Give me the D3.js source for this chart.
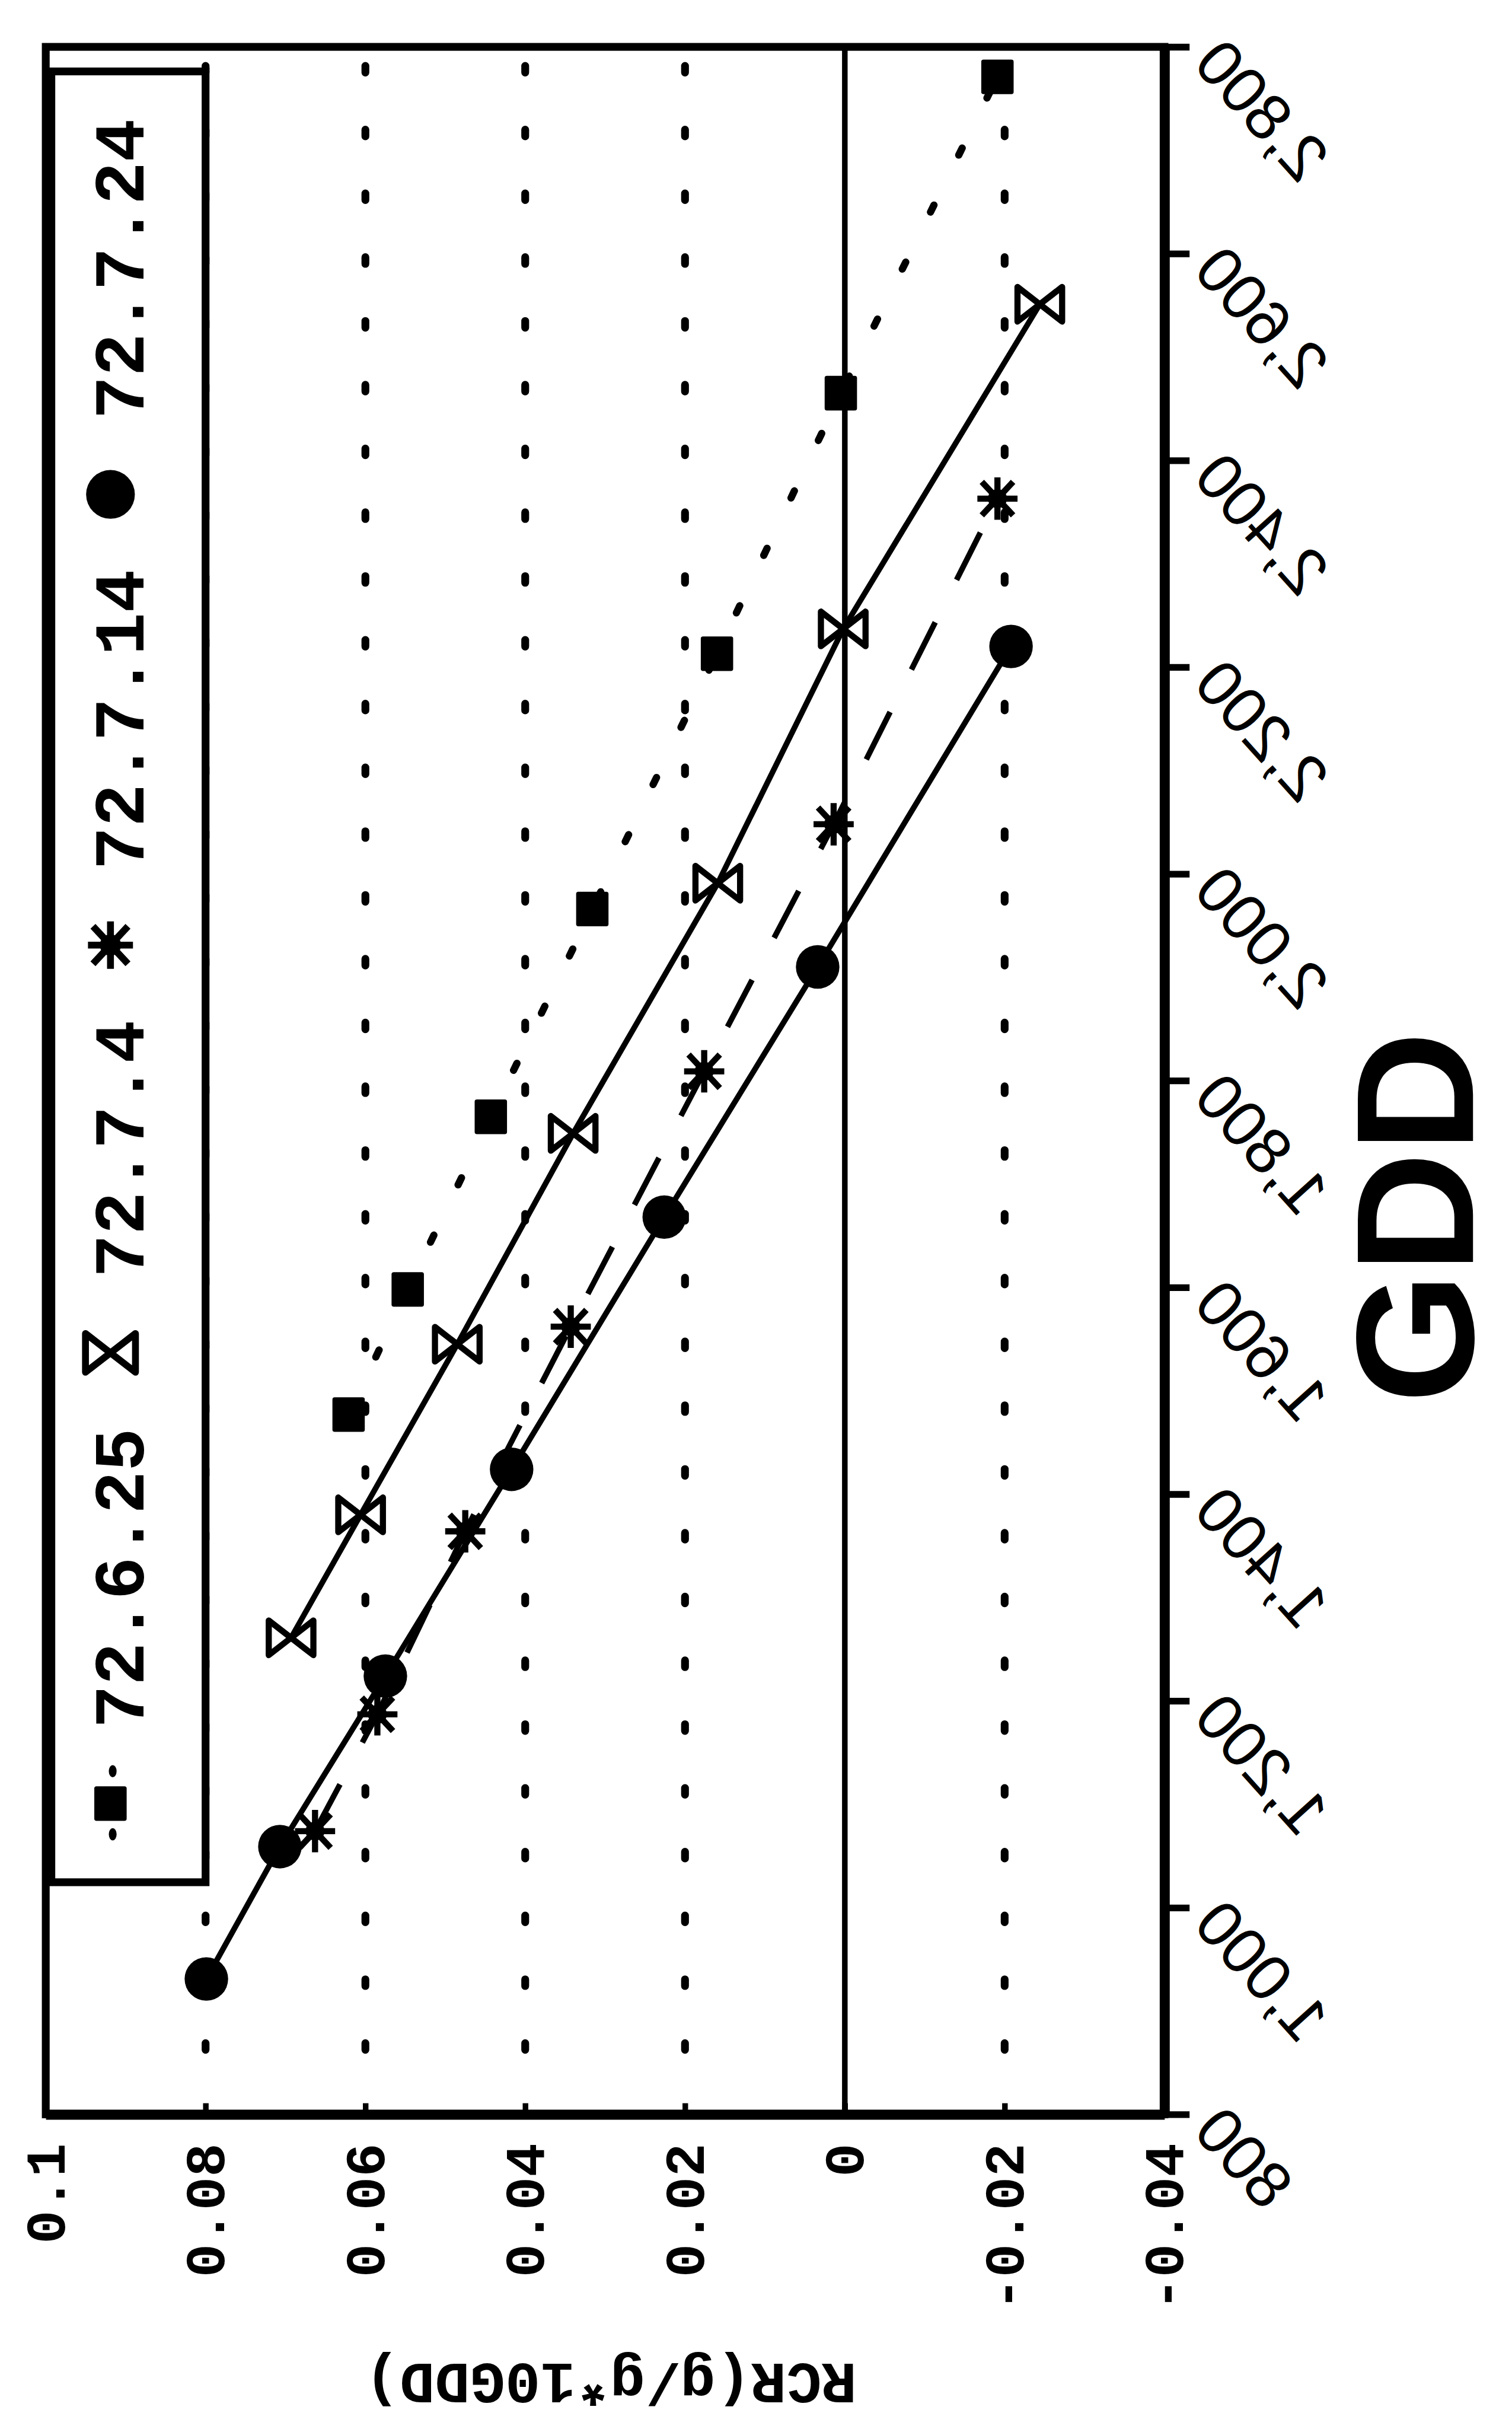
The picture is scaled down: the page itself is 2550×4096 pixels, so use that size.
<!DOCTYPE html>
<html>
<head>
<meta charset="utf-8">
<script src="https://cdn.jsdelivr.net/npm/d3@7"></script>
<style>
  body { margin: 0; background: #fff; }
</style>
</head>
<body>
<div id="chart"></div>
<script>
// series: GDD (vertical axis) and RCR (horizontal axis)
var seriesNames = ['72.6.25', '72.7.4', '72.7.14', '72.7.24'];

var gdd_6_25 = [1477, 1598, 1765, 1966, 2213, 2465, 2771];
var rcr_6_25 = [0.0621, 0.0547, 0.0443, 0.0316, 0.0160, 0.0005, -0.0191];

var gdd_7_4 = [1261, 1380, 1545, 1749, 1991, 2237, 2551];
var rcr_7_4 = [0.0693, 0.0606, 0.0485, 0.0340, 0.0159, 0.0002, -0.0244];

var gdd_7_14 = [1074, 1187, 1364, 1562, 1809, 2048, 2363];
var rcr_7_14 = [0.0663, 0.0585, 0.0475, 0.0343, 0.0176, 0.0014, -0.0191];

var gdd_7_24 = [931, 1059, 1224, 1424, 1668, 1910, 2220];
var rcr_7_24 = [0.0799, 0.0707, 0.0575, 0.0417, 0.0226, 0.0034, -0.0208];

var rcrTicks = [0.1, 0.08, 0.06, 0.04, 0.02, 0, -0.02, -0.04];
var rcrTickLabels = ['0.1', '0.08', '0.06', '0.04', '0.02', '0', '-0.02', '-0.04'];
var gddTicks = [800, 1000, 1200, 1400, 1600, 1800, 2000, 2200, 2400, 2600, 2800];
var gddTickLabels = ['800', '1,000', '1,200', '1,400', '1,600', '1,800', '2,000', '2,200', '2,400', '2,600', '2,800'];

var xTitle = 'RCR(g/g*10GDD)';
var yTitle = 'GDD';

// everything is laid out at reference size, then scaled
var S = 0.941;
var pLeft = 82, pRight = 2087, pTop = 84, pBottom = 3789;
var mono = "'Liberation Mono', 'DejaVu Sans Mono', monospace";
var sans = "'Liberation Sans', Arial, sans-serif";

var svg = d3.select('#chart').append('svg')
  .attr('width', 2550)
  .attr('height', 4096);

var g = svg.append('g').attr('transform', 'scale(' + S + ')');

var x = d3.scaleLinear().domain([0.1, -0.04]).range([pLeft, pRight]);
var y = d3.scaleLinear().domain([800, 2800]).range([pBottom, pTop]);

function zip(gs, rs) {
  return gs.map(function (d, i) { return { gdd: d, rcr: rs[i] }; });
}

var series = [
  { name: seriesNames[0], values: zip(gdd_6_25, rcr_6_25), marker: 'square', dash: '14 100', width: 13, cap: 'round' },
  { name: seriesNames[1], values: zip(gdd_7_4, rcr_7_4), marker: 'bowtie', dash: null, width: 10, cap: 'butt' },
  { name: seriesNames[2], values: zip(gdd_7_14, rcr_7_14), marker: 'star', dash: '95 85', width: 10, cap: 'butt' },
  { name: seriesNames[3], values: zip(gdd_7_24, rcr_7_24), marker: 'circle', dash: null, width: 10, cap: 'butt' }
];

//dotted grid
g.selectAll('line.grid')
  .data(rcrTicks.filter(function (d) { return d !== 0.1 && d !== 0 && d !== -0.04; }))
  .enter()
  .append('line')
  .attr('class', 'grid')
  .attr('x1', function (d) { return x(d); })
  .attr('x2', function (d) { return x(d); })
  .attr('y1', 118)
  .attr('y2', 3760)
  .attr('stroke', '#000')
  .attr('stroke-width', 14)
  .attr('stroke-linecap', 'round')
  .attr('stroke-dasharray', '12 102.3');

// zero line
g.append('line')
  .attr('x1', x(0)).attr('x2', x(0))
  .attr('y1', pTop).attr('y2', pBottom)
  .attr('stroke', '#000')
  .attr('stroke-width', 10);

// frame
g.append('rect')
  .attr('x', pLeft).attr('y', pTop)
  .attr('width', pRight - pLeft).attr('height', pBottom - pTop)
  .attr('fill', 'none')
  .attr('stroke', '#000')
  .attr('stroke-width', 14);

// GDD axis (right side)
var gddAxis = d3.axisRight(y)
  .tickValues(gddTicks)
  .tickSize(45)
  .tickSizeOuter(0)
  .tickFormat(function (d, i) { return gddTickLabels[i]; });

var gAxisR = g.append('g')
  .attr('transform', 'translate(' + pRight + ',0)')
  .call(gddAxis);
gAxisR.select('.domain').attr('stroke-width', 18);
gAxisR.selectAll('.tick line').attr('stroke-width', 12);
gAxisR.selectAll('.tick text')
  .attr('x', 0).attr('dy', 0)
  .attr('text-anchor', 'end')
  .attr('font-family', sans)
  .attr('font-size', 116)
  .attr('fill', '#000')
  .attr('transform', 'translate(48,32) rotate(48) scale(-1,1)');

// RCR axis (bottom)
var rcrAxis = d3.axisBottom(x)
  .tickValues(rcrTicks)
  .tickSize(-20)
  .tickSizeOuter(0)
  .tickFormat(function (d, i) { return rcrTickLabels[i]; });

var gAxisB = g.append('g')
  .attr('transform', 'translate(0,' + pBottom + ')')
  .call(rcrAxis);
gAxisB.select('.domain').attr('stroke-width', 18);
gAxisB.selectAll('.tick line').attr('stroke-width', 10);
gAxisB.selectAll('.tick text')
  .attr('x', 0).attr('y', 0).attr('dy', 0)
  .attr('text-anchor', 'end')
  .attr('font-family', mono)
  .attr('font-weight', 'bold')
  .attr('font-size', 100)
  .attr('fill', '#000')
  .attr('transform', 'translate(33,52) rotate(-90)');

// titles
g.append('text')
  .attr('transform', 'translate(' + ((pLeft + pRight) / 2 + 10) + ',4236) rotate(180)')
  .attr('text-anchor', 'middle')
  .attr('font-family', mono)
  .attr('font-size', 105)
  .attr('font-weight', 'bold')
  .text(xTitle);

g.append('text')
  .attr('transform', 'translate(2640,' + ((pTop + pBottom) / 2 + 245) + ') rotate(-90)')
  .attr('text-anchor', 'middle')
  .attr('font-family', sans)
  .attr('font-size', 300)
  .attr('font-weight', 'bold')
  .text(yTitle);

// series lines
var line = d3.line()
  .x(function (d) { return x(d.rcr); })
  .y(function (d) { return y(d.gdd); });

g.selectAll('path.series')
  .data(series)
  .enter()
  .append('path')
  .attr('class', 'series')
  .attr('d', function (d) { return line(d.values); })
  .attr('fill', 'none')
  .attr('stroke', '#000')
  .attr('stroke-width', function (d) { return d.width; })
  .attr('stroke-linecap', function (d) { return d.cap; })
  .attr('stroke-dasharray', function (d) { return d.dash; });

// marker drawing
function drawMarker(sel, type, k) {
  k = k || 1;
  if (type === 'circle') {
    sel.append('circle').attr('r', 39 * k).attr('fill', '#000');
  } else if (type === 'square') {
    sel.append('rect')
      .attr('x', -29).attr('y', -31).attr('width', 58).attr('height', 62)
      .attr('rx', 4)
      .attr('fill', '#000');
  } else if (type === 'bowtie') {
    sel.append('path')
      .attr('d', 'M-40,-31L-40,31L40,-31L40,31Z')
      .attr('transform', 'scale(' + k + ')')
      .attr('fill', '#fff')
      .attr('stroke', '#000')
      .attr('stroke-width', 11)
      .attr('stroke-linejoin', 'round');
  } else if (type === 'star') {
    sel.append('path')
      .attr('d', 'M-36,0H36M0,-38V38M-28,-30L28,30M-28,30L28,-30')
      .attr('transform', 'scale(' + k + ')')
      .attr('stroke', '#000')
      .attr('stroke-width', 11);
    sel.append('circle').attr('r', 17 * k).attr('fill', '#000');
  }
}

series.forEach(function (s) {
  g.selectAll(null)
    .data(s.values)
    .enter()
    .append('g')
    .attr('transform', function (d) { return 'translate(' + x(d.rcr) + ',' + y(d.gdd) + ')'; })
    .each(function () { drawMarker(d3.select(this), s.marker); });
});

// legend box
var legTop = 128, legBottom = 3373, legLeft = 92;
g.append('rect')
  .attr('x', legLeft).attr('y', legTop)
  .attr('width', x(0.08) - legLeft).attr('height', legBottom - legTop)
  .attr('fill', '#fff')
  .attr('stroke', '#000')
  .attr('stroke-width', 14);

// legend entries run bottom to top
var legFont = 128, charW = legFont * 0.6, gap = 135;
var markX = 198, textX = 257;
var curY = 3232;
series.forEach(function (s) {
  var item = g.append('g');
  var m = item.append('g').attr('transform', 'translate(' + markX + ',' + curY + ')');
  drawMarker(m, s.marker, 1.12);
  if (s.marker === 'square') {
    [-58, 55].forEach(function (o) {
      item.append('ellipse')
        .attr('cx', markX + 4).attr('cy', curY + o)
        .attr('rx', 7).attr('ry', 11)
        .attr('fill', '#000');
    });
  }
  var tStart = curY - gap;
  item.append('text')
    .attr('transform', 'translate(' + textX + ',' + tStart + ') rotate(-90)')
    .attr('font-family', mono)
    .attr('font-weight', 'bold')
    .attr('font-size', legFont)
    .text(s.name);
  curY = tStart - s.name.length * charW - gap;
});
</script>
</body>
</html>
